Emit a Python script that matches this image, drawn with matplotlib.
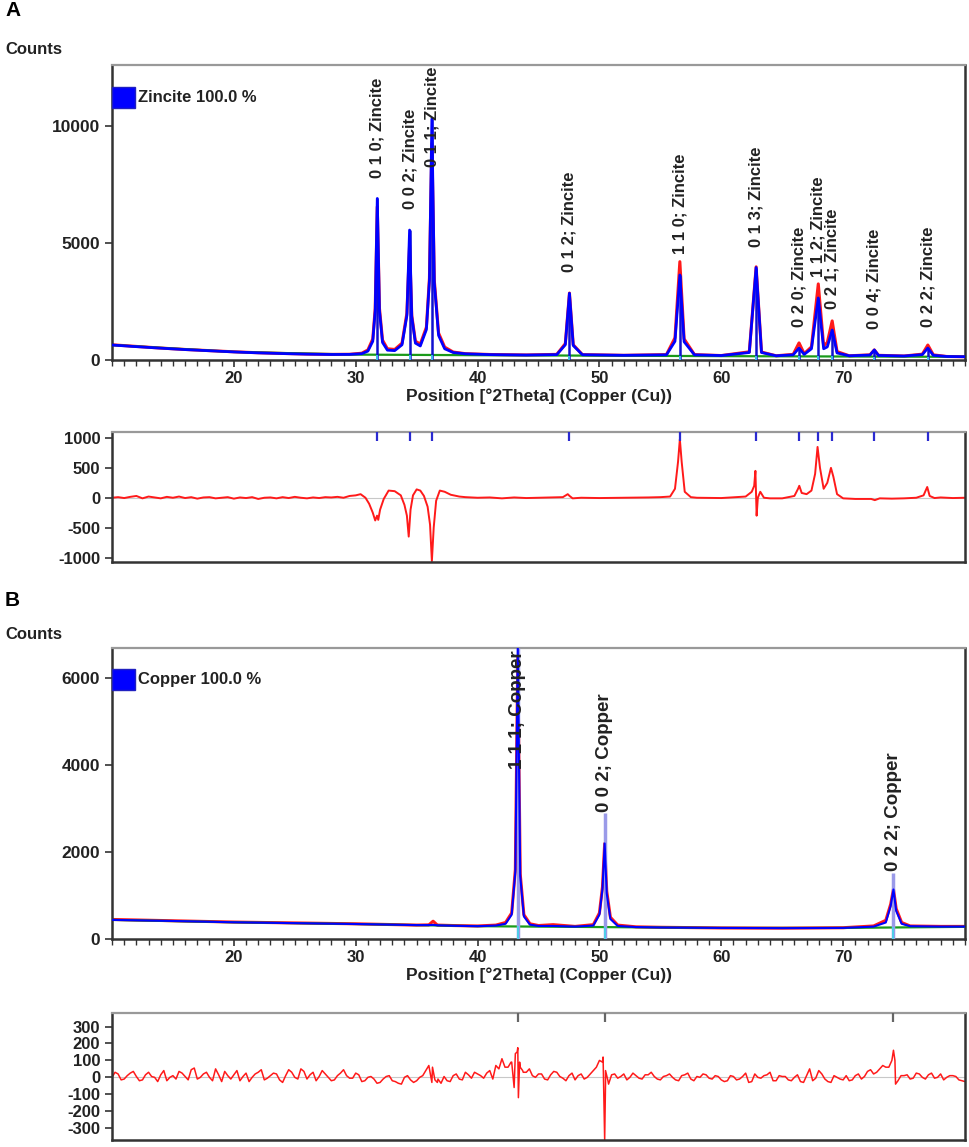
import numpy as np
import matplotlib
matplotlib.use('Agg')
import matplotlib.pyplot as plt
from matplotlib.patches import Rectangle
from matplotlib.ticker import MultipleLocator

# ---------------- panel A : zincite ----------------
a_x = [10, 12, 14, 16, 18, 20, 22, 24, 26, 28, 29.5,
       30.5, 31.0, 31.4, 31.6, 31.77, 31.95, 32.2, 32.6,
       33.2, 33.8, 34.2, 34.42, 34.6, 34.9,
       35.3, 35.8, 36.05, 36.25, 36.45, 36.8, 37.3, 38.0, 39.0,
       41.0, 44.0, 46.5, 47.2, 47.54, 47.85, 48.6,
       52.0, 55.5, 56.2, 56.6, 56.95, 57.8,
       60.0, 62.3, 62.86, 63.3, 64.5,
       65.9, 66.38, 66.8, 67.4, 67.96, 68.4, 68.7, 69.1, 69.5, 70.5,
       72.2, 72.56, 72.9, 75.0, 76.5, 76.95, 77.4, 78.5, 80.0]
a_obs = [650, 580, 510, 450, 400, 350, 310, 280, 255, 240, 245,
         290, 430, 900, 2200, 6550, 2200, 850, 480,
         450, 720, 2000, 4900, 1900, 800,
         680, 1400, 3500, 9250, 3400, 1150, 550, 340, 270,
         235, 215, 240, 700, 2860, 650, 230,
         200, 230, 950, 4200, 900, 230,
         190, 350, 3980, 340, 180,
         240, 730, 270, 560, 3250, 600, 750, 1670, 360, 180,
         220, 430, 200, 170, 250, 640, 220, 150, 140]
a_calc = [640, 570, 505, 445, 395, 345, 305, 275, 250, 235, 240,
          270, 380, 800, 2100, 6900, 2100, 750, 420,
          400, 650, 1900, 5550, 1850, 720,
          600, 1300, 3400, 10300, 3300, 1050, 480, 320, 265,
          230, 212, 230, 650, 2850, 620, 225,
          200, 220, 800, 3630, 780, 220,
          190, 320, 3950, 320, 180,
          220, 510, 240, 480, 2650, 480, 560, 1280, 300, 180,
          210, 430, 195, 170, 230, 510, 200, 150, 140]
a_bg_x = [10, 20, 30, 40, 50, 60, 70, 80]
a_bg_y = [640, 345, 230, 205, 185, 165, 150, 135]
a_peaks = [31.77, 34.42, 36.25, 47.54, 56.60, 62.86, 66.38, 67.96, 69.10, 72.56, 76.95]
a_stick = [6900, 5550, 10300, 2850, 3630, 3950, 510, 2650, 1280, 430, 510]
a_hkl = ['0 1 0', '0 0 2', '0 1 1', '0 1 2', '1 1 0', '0 1 3',
         '0 2 0', '1 1 2', '0 2 1', '0 0 4', '0 2 2']

res_a_x = [10, 10.5, 11, 11.5, 12, 12.5, 13, 13.5, 14, 14.5,
           15, 15.5, 16, 16.5, 17, 17.5, 18, 18.5, 19, 19.5,
           20, 20.5, 21, 21.5, 22, 22.5, 23, 23.5, 24, 24.5,
           25, 25.5, 26, 26.5, 27, 27.5, 28, 28.5, 29, 29.5,
           30, 30.4, 30.8, 31.1, 31.4, 31.6, 31.75, 31.85, 32.0, 32.3, 32.7,
           33.2, 33.7, 34.0, 34.2, 34.35, 34.5, 34.7, 35.0, 35.3, 35.6, 35.9,
           36.1, 36.25, 36.4, 36.6, 36.9, 37.3, 37.8, 38.5, 39,
           40, 41, 42, 43, 44, 45, 46, 47.0, 47.4, 47.55, 47.8, 48.5,
           50, 52, 54, 55, 55.8, 56.2, 56.45, 56.6, 56.75, 57.0, 57.5, 58,
           60, 62, 62.5, 62.7, 62.8, 62.9, 63.0, 63.2, 63.5, 64, 65,
           66.0, 66.3, 66.4, 66.6, 67.0, 67.4, 67.7, 67.9, 68.1, 68.4, 68.7, 69.0, 69.2, 69.5,
           70, 71, 72.3, 72.6, 73, 74, 75, 76, 76.6, 76.9, 77.1, 77.5, 78, 79, 80]
res_a_y = [0, 10, -5, 15, 30, -10, 20, 5, -10, 15,
           0, 20, -5, 10, -15, 5, 10, -10, 0, 10,
           -15, 5, -5, 10, -20, 0, 5, -10, 10, -5,
           15, 0, -10, 5, -5, 10, 5, 15, 0, 30,
           40, 60, 0, -100, -250, -380, -300, -370, -200, -20, 120,
           110, 40, -120, -300, -650, -200, 40, 140, 120, 30, -150,
           -450, -1060, -500, -50, 120, 100, 50, 20, 10,
           0, 5, -10, 5, -5, 0, 5, 10, 60, 30, -10, 0,
           -5, 0, 5, 10, 20, 150, 600, 980, 600, 100, 10, 0,
           -5, 20, 100, 200, 450, -300, 0, 100, 0, -10, -10,
           30, 150, 200, 80, 60, 120, 400, 850, 500, 150, 250, 500, 350, 60,
           -10, -20, -20, -40, -10, -15, -10, 0, 40, 180, 30, -5, 5, -5, 0]

# ---------------- panel B : copper ----------------
b_x = [10, 15, 20, 25, 30, 35,
       36.0, 36.35, 36.7, 38.0, 40.0,
       41.5, 42.3, 42.8, 43.1, 43.3, 43.5, 43.8, 44.3, 45.0,
       46.2, 48.0, 49.5, 50.0, 50.25, 50.43, 50.6, 50.9, 51.5,
       53.0, 55.0, 60.0, 65.0, 70.0,
       72.5, 73.5, 73.9, 74.13, 74.35, 74.8, 75.5, 78.0, 80.0]
b_obs = [450, 420, 390, 370, 350, 320,
         325, 410, 320, 310, 300,
         320, 380, 600, 1600, 6500, 1500, 560, 350, 310,
         330, 290, 330, 600, 1200, 2200, 1100, 500, 320,
         280, 270, 255, 250, 260,
         300, 430, 800, 1150, 700, 380, 300, 290, 290]
b_calc = [440, 415, 385, 365, 345, 320,
          320, 325, 315, 305, 295,
          310, 350, 560, 1550, 6700, 1450, 520, 330, 300,
          300, 285, 310, 560, 1150, 2200, 1050, 460, 300,
          275, 265, 255, 250, 255,
          285, 380, 760, 1140, 650, 350, 295, 285, 285]
b_bg_x = [10, 20, 30, 40, 50, 60, 70, 80]
b_bg_y = [440, 385, 345, 295, 275, 255, 255, 280]
b_peaks = [43.30, 50.43, 74.13]
b_stick = [6700, 2900, 1530]
b_hkl = ['1 1 1', '0 0 2', '0 2 2']

# difference curve B: read at 10.0, 10.5 ... 80.0
res_b_half = [0,
              20, -10, 25, 5, -15, 30, 0, 15, -20, 10,
              35, 5, 45, -10, 20, 0, 50, -25, 10, 15,
              -20, 25, 0, 30, -15, 10, 20, -30, 45, 0,
              50, -10, 30, 5, 20, -20, 10, 45, -5, 25,
              -25, 0, -10, -30, 5, -20, -35, 0, -15, -20,
              10, 70, -15, -35, -20, 10, -10, 30, -5, 20,
              -5, 40, 70, 110, 60, -60, 60, 30, 10, 20,
              -10, 15, 30, -5, 10, -15, 20, 0, 40, 100,
              -30, 15, -5, 20, 0, 10, -10, 15, 5, -15,
              10, 0, -20, 15, -10, 5, 20, -5, 10, -15,
              -20, 5, -10, 25, -25, 0, 10, 30, -20, 5,
              -15, 0, -25, 10, -20, 40, -10, -30, 0, -15,
              -20, 10, -10, 35, 20, 50, 60, 100, -20, 10,
              -10, 25, 0, 15, -5, 20, 0, 10, -15, -25]
# and at 10.25, 10.75 ... 79.75
res_b_quarter = [30, -15, 10, 35, -20, 15, 5, -25, 40, 0,
                 -10, 25, -15, 55, 0, 30, -20, 15, 35, -10,
                 40, 5, -25, 20, 45, -5, 25, -15, 10, 30,
                 -10, 35, 15, -20, 40, 0, -15, 25, 10, -5,
                 15, -20, 5, -35, -10, 10, -25, -40, 10, -30,
                 0, 40, -30, -10, 5, -25, 20, -15, 15, 30,
                 10, 25, -10, 50, 60, 90, 150, 30, 50, 0,
                 20, -15, 35, 5, -20, 25, 10, -10, 20, 60,
                 90, -40, 20, 5, -15, 25, -5, 15, 30, -10,
                 5, 20, -15, 10, 25, -20, 0, 15, -10, 5,
                 -25, 10, -15, 5, -30, 20, -5, 15, -20, 10,
                 5, -20, 15, -30, 50, -5, 20, -25, 10, -10,
                 10, -15, 20, 5, 45, 30, 70, 60, 100, 10,
                 15, -5, 20, -10, 25, 0, -15, 10, 5, -20]
res_b_extra_x = [36.3, 36.7, 42.8, 43.1, 43.3, 43.35, 43.45, 43.7,
                 50.3, 50.43, 50.5, 50.7, 74.13, 74.3]
res_b_extra_y = [60, -30, 90, 140, 175, -120, 90, 40,
                 120, -370, 40, -20, 160, -40]

OBS = '#ff1a1a'
CALC = '#0000ff'
BG = '#1a9a1a'
INK = '#222222'
PX = 1 / 100  # inches per pixel at dpi 100


def frame(ax):
    for side in ['left', 'bottom', 'right']:
        ax.spines[side].set_color('#333333')
        ax.spines[side].set_linewidth(1.8)
    ax.spines['top'].set_color('#999999')
    ax.spines['top'].set_linewidth(1.6)
    ax.tick_params(axis='y', direction='out', length=5, width=1.2,
                   colors='#333333', labelcolor=INK)
    for lab in ax.get_yticklabels():
        lab.set_fontweight('bold')


def main_panel(ax, x, obs, calc, bgx, bgy, peaks, stick, ymax, yticks,
               stick_col, stick_lw, calc_lw):
    ax.plot(x, obs, color=OBS, lw=2.2, zorder=2)
    ax.plot(bgx, bgy, color=BG, lw=1.6, zorder=3)
    ax.vlines(peaks, 0, stick, color=stick_col, lw=stick_lw, zorder=4)
    ax.vlines(peaks, 0, np.interp(peaks, bgx, bgy), color='#40d8e8', lw=1.2, zorder=5)
    ax.plot(x, calc, color=CALC, lw=calc_lw, zorder=6)
    ax.set_xlim(10, 80)
    ax.set_ylim(0, ymax)
    ax.set_xticks([20, 30, 40, 50, 60, 70])
    ax.xaxis.set_minor_locator(MultipleLocator(1))
    ax.set_yticks(yticks)
    ax.tick_params(axis='x', which='major', direction='out', length=5, width=1.2,
                   colors='#333333', labelcolor=INK, labelsize=12, pad=3)
    ax.tick_params(axis='x', which='minor', direction='out', length=4, width=1.0,
                   colors='#333333')
    ax.tick_params(axis='y', labelsize=12.5)
    frame(ax)
    for lab in ax.get_xticklabels():
        lab.set_fontweight('bold')
    ax.set_xlabel('Position [°2Theta] (Copper (Cu))', fontsize=12.5,
                  fontweight='bold', color=INK, labelpad=2)


def resid_panel(ax, x, y, ylim, yticks, peaks, mark_col, lw):
    ax.axhline(0, color='#c8c8c8', lw=0.8, zorder=1)
    ax.plot(x, y, color=OBS, lw=lw, zorder=2)
    ax.vlines(peaks, 0.93, 1.0, transform=ax.get_xaxis_transform(),
              color=mark_col, lw=1.6, zorder=3)
    ax.set_xlim(10, 80)
    ax.set_ylim(*ylim)
    ax.set_xticks([])
    ax.set_yticks(yticks)
    ax.tick_params(axis='y', labelsize=12)
    frame(ax)


def peak_labels(ax, peaks, tops, hkl, phase, gap, size):
    texts = []
    for p, t, h in zip(peaks, tops, hkl):
        txt = ax.annotate(f'{h}; {phase}', (p, t), xytext=(0, gap),
                          textcoords='offset points', rotation=90,
                          ha='center', va='bottom', fontsize=size,
                          fontweight='bold', color=INK, zorder=7)
        texts.append(txt)
    return texts


def fit_inside(ax, texts, gap):
    # labels that would run past the top of the frame are pushed down
    r = fig.canvas.get_renderer()
    top = ax.get_window_extent(r).y1
    for txt in texts:
        over = txt.get_window_extent(r).y1 - (top - 2)
        if over > 0:
            txt.xyann = (0, gap - over * 72 / fig.dpi)


plt.rcParams['font.family'] = ['Liberation Sans', 'DejaVu Sans']
plt.rcParams['axes.unicode_minus'] = False

fig = plt.figure(figsize=(969 * PX, 1147 * PX), dpi=100)
L, W = 112 / 969, 853 / 969


def box(top, bottom):
    return [L, 1 - bottom / 1147, W, (bottom - top) / 1147]


ax_a = fig.add_axes(box(65, 360))
ax_ra = fig.add_axes(box(432, 562))
ax_b = fig.add_axes(box(648, 939))
ax_rb = fig.add_axes(box(1013, 1140))

main_panel(ax_a, a_x, a_obs, a_calc, a_bg_x, a_bg_y, a_peaks, a_stick,
           12600, [0, 5000, 10000], '#1010d0', 1.8, 2.0)
main_panel(ax_b, b_x, b_obs, b_calc, b_bg_x, b_bg_y, b_peaks, b_stick,
           6700, [0, 2000, 4000, 6000], '#9a9ae8', 2.5, 1.5)

lab_a = peak_labels(ax_a, a_peaks, a_stick, a_hkl, 'Zincite', 15, 12)
lab_b = peak_labels(ax_b, b_peaks, b_stick, b_hkl, 'Copper', 1, 13.5)

resid_panel(ax_ra, res_a_x, res_a_y, (-1075, 1100), [-1000, -500, 0, 500, 1000],
            a_peaks, '#2a2ad0', 1.4)
rb_x = np.concatenate([np.arange(10, 80.01, 0.5), np.arange(10.25, 80, 0.5),
                       res_b_extra_x])
rb_y = np.concatenate([res_b_half, res_b_quarter, res_b_extra_y])
order = np.argsort(rb_x, kind='stable')
resid_panel(ax_rb, rb_x[order], rb_y[order], (-370, 380),
            [-300, -200, -100, 0, 100, 200, 300], b_peaks, '#666666', 1.1)

# phase legend squares
for ax, name in [(ax_a, 'Zincite 100.0 %'), (ax_b, 'Copper 100.0 %')]:
    ax.add_patch(Rectangle((0, 0.855), 0.027, 0.072, transform=ax.transAxes,
                           facecolor='#0000ff', edgecolor='#2020c0', clip_on=False, zorder=8))
    ax.text(0.030, 0.891, name, transform=ax.transAxes, va='center', ha='left',
            fontsize=12, fontweight='bold', color=INK, zorder=8)

for letter, ly, cy in [('A', 10, 50), ('B', 600, 634)]:
    fig.text(5 / 969, 1 - ly / 1147, letter, fontsize=15, fontweight='bold',
             va='center', ha='left', color='black')
    fig.text(5 / 969, 1 - cy / 1147, 'Counts', fontsize=12, fontweight='bold',
             va='center', ha='left', color=INK)

fig.canvas.draw()
fit_inside(ax_a, lab_a, 15)
fit_inside(ax_b, lab_b, 1)

fig.savefig('out.png', dpi=100, facecolor='white')
